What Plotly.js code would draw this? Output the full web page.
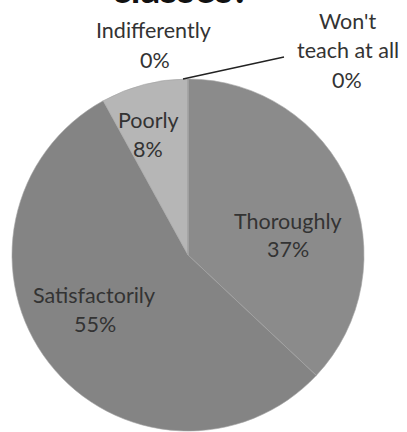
<!DOCTYPE html>
<html>
<head>
<meta charset="utf-8">
<script src="https://cdn.plot.ly/plotly-3.0.1.min.js"></script>
<style>html,body{margin:0;padding:0;background:#fff;}#chart{width:407px;height:432px;}</style>
</head>
<body>
<div id="chart"></div>
<script>
// ---- data ----
var categories = ["Thoroughly", "Satisfactorily", "Poorly", "Indifferently", "Won't teach at all"];
var values = [37, 55, 8, 0, 0];
var titleText = "classes?";

// ---- styles / layout helpers ----
var sliceColors = ["#8b8b8b", "#848484", "#b6b6b6", "#c8c8c8", "#d0d0d0"];
var W = 407, H = 432;
// label line positions in pixels (name lines, then percent line)
var labelLines = [
  [["Thoroughly", 288, 221]],
  [["Satisfactorily", 94, 295]],
  [["Poorly", 148, 120]],
  [["Indifferently", 153, 30]],
  [["Won't", 347, 21], ["teach at all", 348, 50]]
];
var pctPos = [[288, 249], [95, 324], [148, 149], [155, 60], [347, 80]];

var total = values.reduce(function (a, b) { return a + b; }, 0);
var font = {family: "Lato, 'Open Sans', sans-serif", size: 21.5, color: "#333333"};
var annotations = [];
function px(x) { return x / W; }
function py(y) { return (H - y) / H; }
categories.forEach(function (c, i) {
  labelLines[i].forEach(function (ln) {
    annotations.push({text: ln[0], x: px(ln[1]), y: py(ln[2]), xref: "paper", yref: "paper",
      xanchor: "center", yanchor: "middle", showarrow: false, font: font});
  });
  var pct = Math.round(values[i] / total * 100) + "%";
  annotations.push({text: pct, x: px(pctPos[i][0]), y: py(pctPos[i][1]), xref: "paper", yref: "paper",
    xanchor: "center", yanchor: "middle", showarrow: false, font: font});
});
annotations.push({text: "<b>" + titleText + "</b>", x: px(181), y: py(13), xref: "paper", yref: "paper",
  xanchor: "center", yanchor: "bottom", showarrow: false,
  font: {family: "Lato, 'Open Sans', sans-serif", size: 39, color: "#111"}});

var cx = 188, cy = 255, r = 176;
var trace = {
  type: "pie",
  labels: categories,
  values: values,
  sort: false,
  direction: "clockwise",
  rotation: 0,
  textinfo: "none",
  hoverinfo: "label+percent",
  marker: {colors: sliceColors, line: {color: "#a4a4a4", width: 0.6}},
  domain: {x: [(cx - r) / W, (cx + r) / W], y: [(H - cy - r) / H, (H - cy + r) / H]},
  showlegend: false
};

var layout = {
  width: W, height: H,
  margin: {l: 0, r: 0, t: 0, b: 0},
  paper_bgcolor: "#ffffff",
  showlegend: false,
  annotations: annotations,
  shapes: [{type: "line", xref: "paper", yref: "paper",
    x0: px(183), y0: py(79), x1: px(284), y1: py(57),
    line: {color: "#222", width: 1.3}}]
};

Plotly.newPlot("chart", [trace], layout, {displayModeBar: false, staticPlot: true});
</script>
</body>
</html>
